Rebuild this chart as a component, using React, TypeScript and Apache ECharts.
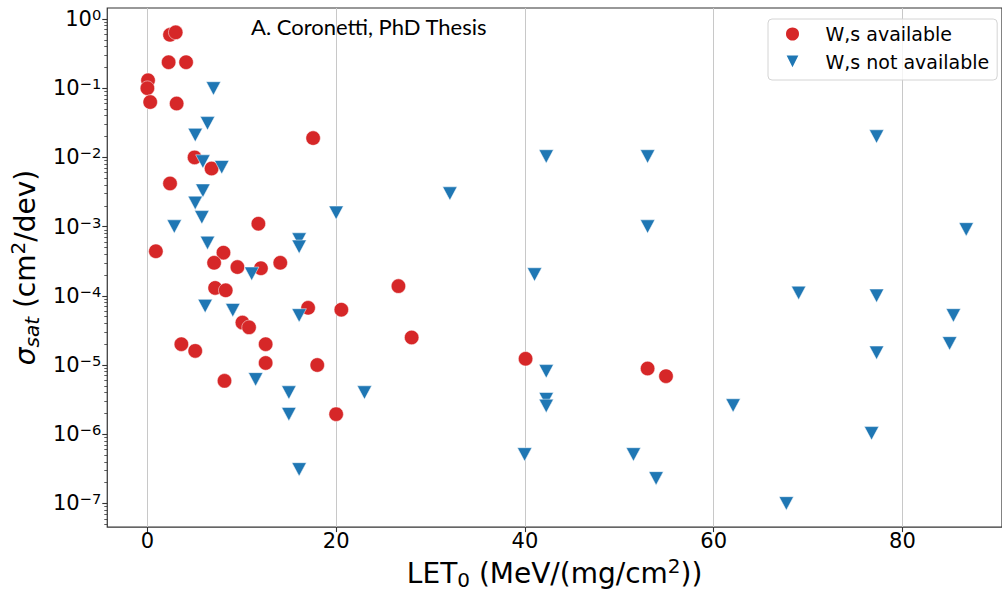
import React, { useEffect, useRef } from "react";
import * as echarts from "echarts";

// ---- data ----
const availableLET = [
  0.07, 0, 0.3, 2.4, 3.0, 2.25, 4.1, 3.1, 5.0, 6.8, 2.4, 0.9, 17.56, 11.76, 8.06, 7.07, 9.54, 12.03,
  14.08, 7.18, 8.3, 3.6, 5.07, 10.07, 10.77, 12.53, 12.53, 8.17, 17.03, 18.0, 20.0, 20.55, 26.6,
  28.0, 40.07, 53.0, 54.95,
];
const availableSigma = [
  0.13, 0.1, 0.063, 0.59, 0.64, 0.237, 0.237, 0.06, 0.01, 0.0069, 0.0042, 0.00044, 0.019, 0.0011,
  0.00042, 0.0003, 0.00026, 0.00025, 0.0003, 0.00013, 0.00012, 2e-5, 1.6e-5, 4.1e-5, 3.5e-5, 2e-5,
  1.07e-5, 5.9e-6, 6.7e-5, 1e-5, 1.95e-6, 6.3e-5, 1.38e-4, 2.5e-5, 1.23e-5, 8.9e-6, 6.9e-6,
];
const notAvailableLET = [
  7.0, 6.37, 5.07, 5.88, 7.88, 5.88, 5.07, 5.77, 2.85, 6.37, 11.05, 16.08, 16.08, 20.0, 6.12, 9.05,
  11.47, 14.99, 14.99, 16.08, 16.08, 32.05, 42.26, 53.0, 53.0, 41.02, 23.0, 42.26, 42.26, 42.26,
  39.97, 51.5, 53.9, 77.26, 86.76, 69.0, 77.26, 85.4, 85.0, 77.26, 62.06, 76.73, 67.7,
];
const notAvailableSigma = [
  0.099, 0.031, 0.021, 0.0087, 0.0072, 0.0033, 0.0022, 0.00136, 0.001, 5.8e-4, 2.08e-4, 6.5e-4,
  5.1e-4, 1.58e-3, 7.1e-5, 6.2e-5, 6.2e-6, 4e-6, 1.95e-6, 3.1e-7, 5.2e-5, 3.0e-3, 0.0103, 0.0103,
  1e-3, 2.03e-4, 4e-6, 8.1e-6, 3.2e-6, 2.56e-6, 5.1e-7, 5.1e-7, 2.3e-7, 0.02, 9.1e-4, 1.1e-4,
  1.0e-4, 5.2e-5, 2.05e-5, 1.5e-5, 2.6e-6, 1.03e-6, 1e-7,
];
const seriesNames = ["W,s available", "W,s not available"];
const xTickValues = [0, 20, 40, 60, 80];
const yTickExponents = [-7, -6, -5, -4, -3, -2, -1, 0];
const minorMultipliers = [2, 3, 4, 5, 6, 7, 8, 9];
const annotationText = "A. Coronetti, PhD Thesis";

const X_MIN = -4.25;
const X_MAX = 90.55;
const Y_MIN = 4.55e-8;
const Y_MAX = 1.44;

const FONT = "DejaVu Sans";
const DOWN_TRIANGLE = "path://M0,0L2,0L1,2Z";

export default function App() {
  const ref = useRef<HTMLDivElement>(null);

  useEffect(() => {
    document.body.style.margin = "0";
    if (!ref.current) return;
    const chart = echarts.init(ref.current, null, { renderer: "svg" });

    const logMin = Math.log10(Y_MIN);
    const logMax = Math.log10(Y_MAX);
    const minorLogs: number[] = [];
    for (let e = -8; e <= 0; e++) {
      for (const m of minorMultipliers) {
        const v = e + Math.log10(m);
        if (v > logMin && v < logMax) minorLogs.push(v);
      }
    }

    const fmtExp = (e: number) => (e < 0 ? "\u2212" + Math.abs(e) : String(e));

    const option: any = {
      animation: false,
      backgroundColor: "#fff",
      grid: {
        left: 105,
        top: 8,
        width: 898.2,
        height: 520,
        show: true,
        borderColor: "#333",
        borderWidth: 1.2,
        backgroundColor: "transparent",
        containLabel: false,
      },
      legend: {
        orient: "vertical",
        left: 768,
        top: 19,
        padding: [4, 8, 7, 16],
        itemWidth: 20,
        itemHeight: 15,
        itemGap: 6,
        borderColor: "#d4d4d4",
        borderWidth: 1,
        borderRadius: 4,
        backgroundColor: "rgba(255,255,255,0.8)",
        textStyle: {
          fontFamily: FONT,
          fontSize: 19,
          color: "#000",
          lineHeight: 22,
          padding: [0, 0, 0, 18],
        },
        data: seriesNames,
      },
      xAxis: {
        type: "value",
        min: X_MIN,
        max: X_MAX,
        axisLine: { show: false, onZero: false },
        axisTick: {
          show: true,
          customValues: xTickValues,
          length: 5,
          lineStyle: { color: "#333", width: 1.1 },
        },
        axisLabel: {
          customValues: xTickValues,
          fontFamily: FONT,
          fontSize: 21,
          color: "#000",
          margin: 3,
        },
        splitLine: { show: true, lineStyle: { color: "#c8c8c8", width: 1 } },
        name: "{b|LET}{sub|0}{b| (MeV/(mg/cm}{sup|2}{b|))}",
        nameLocation: "middle",
        nameGap: 27,
        nameTextStyle: {
          rich: {
            b: { fontFamily: FONT, fontSize: 28, lineHeight: 34, color: "#000" },
            sub: { fontFamily: FONT, fontSize: 20, lineHeight: 20, verticalAlign: "bottom", color: "#000" },
            sup: { fontFamily: FONT, fontSize: 20, lineHeight: 22, verticalAlign: "top", color: "#000" },
          },
        },
      },
      yAxis: [
        {
          type: "log",
          logBase: 10,
          min: Y_MIN,
          max: Y_MAX,
          axisLine: { show: false, onZero: false },
          axisTick: { show: false },
          axisLabel: { show: false },
          splitLine: { show: false },
          minorTick: { show: false },
        },
        {
          type: "value",
          min: logMin,
          max: logMax,
          position: "left",
          axisLine: { show: false, onZero: false },
          splitLine: { show: false },
          axisTick: {
            show: true,
            customValues: yTickExponents,
            length: 5,
            lineStyle: { color: "#333", width: 1.1 },
          },
          axisLabel: {
            customValues: yTickExponents,
            margin: 6,
            formatter: (v: number) => `{b|10}{s|${fmtExp(Math.round(v))}}`,
            rich: {
              b: { fontFamily: FONT, fontSize: 21, lineHeight: 24, color: "#000" },
              s: { fontFamily: FONT, fontSize: 14.7, lineHeight: 14, verticalAlign: "top", color: "#000" },
            },
          },
          name: "{i|\u03c3}{sub|sat}{b| (cm}{sup|2}{b|/dev)}",
          nameLocation: "middle",
          nameRotate: 90,
          nameGap: 60,
          nameTextStyle: {
            rich: {
              b: { fontFamily: FONT, fontSize: 28, lineHeight: 34, color: "#000" },
              i: { fontFamily: FONT, fontSize: 28, lineHeight: 34, fontStyle: "italic", color: "#000" },
              sub: {
                fontFamily: FONT,
                fontSize: 20,
                lineHeight: 20,
                verticalAlign: "bottom",
                fontStyle: "italic",
                color: "#000",
              },
              sup: { fontFamily: FONT, fontSize: 20, lineHeight: 22, verticalAlign: "top", color: "#000" },
            },
          },
        },
        {
          type: "value",
          min: logMin,
          max: logMax,
          position: "left",
          axisLine: { show: false, onZero: false },
          splitLine: { show: false },
          axisLabel: { show: false, customValues: minorLogs },
          axisTick: {
            show: true,
            customValues: minorLogs,
            length: 3,
            lineStyle: { color: "#333", width: 0.8 },
          },
        },
      ],
      graphic: [
        {
          type: "text",
          x: 251,
          y: 26,
          style: {
            text: annotationText,
            font: "22px Lato",
            fill: "#000",
            align: "left",
            verticalAlign: "middle",
          },
        },
      ],
      series: [
        {
          name: seriesNames[0],
          type: "scatter",
          xAxisIndex: 0,
          yAxisIndex: 0,
          symbol: "circle",
          symbolSize: 14.5,
          itemStyle: { color: "#d62728", borderColor: "#fff", borderWidth: 0.5, opacity: 1 },
          data: availableLET.map((x, i) => [x, availableSigma[i]]),
        },
        {
          name: seriesNames[1],
          type: "scatter",
          xAxisIndex: 0,
          yAxisIndex: 0,
          symbol: DOWN_TRIANGLE,
          symbolSize: [14.5, 13.5],
          itemStyle: { color: "#1f77b4", borderColor: "#fff", borderWidth: 0.5, opacity: 1 },
          data: notAvailableLET.map((x, i) => [x, notAvailableSigma[i]]),
        },
      ],
    };

    chart.setOption(option);
    return () => chart.dispose();
  }, []);

  return <div ref={ref} style={{ width: 1002, height: 595 }} />;
}
